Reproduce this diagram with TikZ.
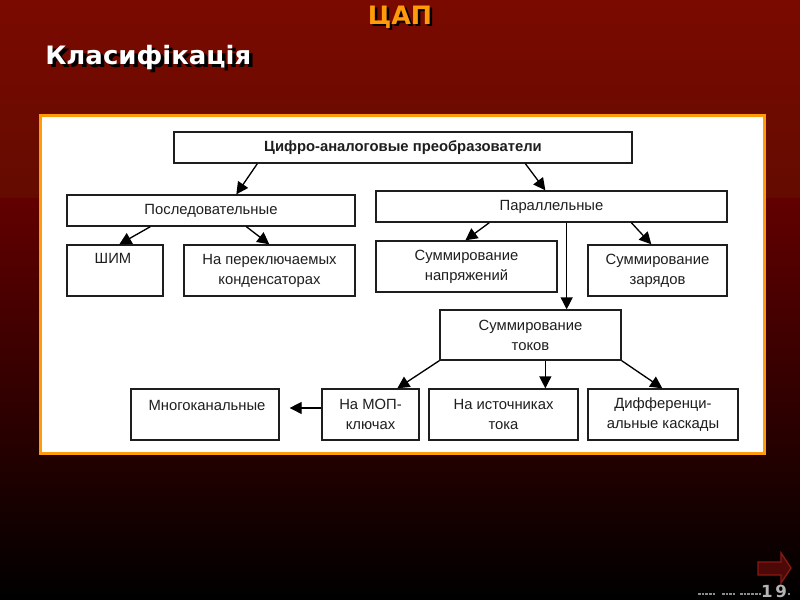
\documentclass[tikz,border=0pt]{standalone}
\usepackage{fontspec}
\setmainfont{Liberation Sans}
\newfontfamily\dv{DejaVu Sans}
\usetikzlibrary{arrows.meta}
\definecolor{bgtopa}{HTML}{7A0A00}
\definecolor{bgtopb}{HTML}{640B00}
\definecolor{bgmid}{HTML}{620000}
\definecolor{bgbot}{HTML}{000000}
\definecolor{orng}{HTML}{FF9A0A}
\definecolor{ink}{HTML}{1E1E1E}
\definecolor{navfill}{HTML}{4D0808}
\definecolor{navedge}{HTML}{8A1A10}
\definecolor{numgray}{HTML}{B4B4B4}
\definecolor{footgray}{HTML}{8C8C8C}
\tikzset{
  x=0.75pt,y=-0.75pt,
  bx/.style={draw=ink,line width=1pt,fill=white,inner sep=0pt,align=center,text=ink,font=\fontsize{11.1}{15}\selectfont},
  lbl/.style={text=ink,inner sep=0pt,font=\fontsize{11.1}{15}\selectfont},
  conn/.style={draw=black,line width=1pt,-{Triangle[length=9pt,width=9pt]}},
  ttl/.style={inner sep=0pt,font=\dv\bfseries\fontsize{19}{22}\selectfont},
  numb/.style={inner sep=0pt,font=\dv\bfseries\fontsize{12.5}{13}\selectfont},
  foot/.style={draw=footgray,line width=1.7pt,dash pattern=on 2pt off 0.8pt},
}
\newcommand{\boxat}[6]{%
  \node[bx,minimum width=#4*0.75pt-#2*0.75pt,minimum height=#5*0.75pt-#3*0.75pt] (#1) at ({(#2+#4)/2},{(#3+#5)/2}) {#6};}
\begin{document}
\begin{tikzpicture}
\useasboundingbox (0,0) rectangle (800,600);
\shade[top color=bgtopa,bottom color=bgtopb] (0,0) rectangle (800,198);
\shade[top color=bgmid,bottom color=bgbot] (0,198) rectangle (800,600);
% titles
\node[ttl,text=black] (t1s) at (402.5,19.5) {ЦАП};
\node[ttl,text=orng] (t1) at (400,17) {ЦАП};
\node[ttl,text=black,anchor=west] (t2s) at (48.5,61) {\scalebox{1.025}[1]{Класифікація}};
\node[ttl,text=white,anchor=west] (t2) at (45,58) {\scalebox{1.025}[1]{Класифікація}};
% panel
\node[draw=orng,line width=2.2pt,fill=white,minimum width=543pt,minimum height=254pt,inner sep=0pt] (panel) at (402.5,284.5) {};
% boxes
\boxat{top}{174}{132}{632}{163}{\bfseries Цифро-аналоговые преобразователи}
\boxat{seq}{67}{195}{355}{226}{Последовательные}
\boxat{par}{376}{191}{727}{222}{Параллельные}
\boxat{shim}{67}{245}{163}{296}{}
\node[lbl] (shimt) at (113,258) {ШИМ};
\boxat{swc}{184}{245}{355}{296}{На переключаемых\\конденсаторах}
\boxat{vsum}{376}{241}{557}{292}{Суммирование\\напряжений}
\boxat{qsum}{588}{245}{727}{296}{Суммирование\\зарядов}
\boxat{isum}{440}{310}{621}{360}{Суммирование\\токов}
\boxat{multi}{131}{389}{279}{440}{}
\node[lbl] (multit) at (207,405) {Многоканальные};
\boxat{mos}{322}{389}{419}{440}{На МОП-\\ключах}
\boxat{src}{429}{389}{578}{440}{На источниках\\тока}
\boxat{diff}{588}{389}{738}{440}{Дифференци-\\альные каскады}
% connectors
\draw[conn] ([xshift=63pt]top.south west) -- ([xshift=127.5pt]seq.north west);
\draw[conn] ([xshift=264pt]top.south west) -- ([xshift=127.5pt]par.north west);
\draw[conn] ([xshift=63pt]seq.south west) -- ([xshift=39.75pt]shim.north west);
\draw[conn] ([xshift=135pt]seq.south west) -- ([xshift=64.5pt]swc.north west);
\draw[conn] ([xshift=85.5pt]par.south west) -- ([xshift=67.5pt]vsum.north west);
\draw[conn] ([xshift=143.5pt]par.south west) -- ([xshift=95.5pt]isum.north west);
\draw[conn] ([xshift=192pt]par.south west) -- ([xshift=48pt]qsum.north west);
\draw[conn] (isum.south west) -- ([xshift=57pt]mos.north west);
\draw[conn] ([xshift=79.5pt]isum.south west) -- ([xshift=87.75pt]src.north west);
\draw[conn] (isum.south east) -- ([xshift=56.25pt]diff.north west);
\draw[conn] ([yshift=4.9pt]mos.west) -- ([xshift=7.5pt,yshift=4.9pt]multi.east);
% nav arrow
\draw[draw=navedge,line width=1pt,fill=navfill] (758,562) -- (781,562) -- (781,553) -- (791,568) -- (781,583) -- (781,575) -- (758,575) -- cycle;
% footer: unreadable tiny print, drawn as marks
\draw[foot] (698,594) -- (715,594);
\draw[foot] (722,594) -- (735,594);
\draw[foot] (740,594) -- (762,594);
\draw[foot] (788,594) -- (790,594);
\node[numb,text=black] (nums) at (775.3,592.3) {1\,9};
\node[numb,text=numgray] (num) at (774,591) {1\,9};
\end{tikzpicture}
\end{document}
